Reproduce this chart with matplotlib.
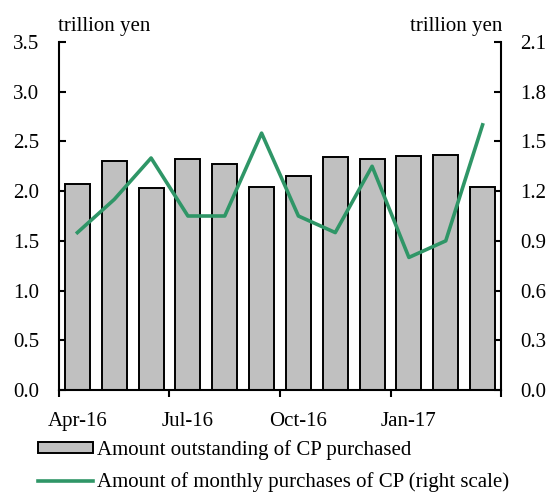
import matplotlib
matplotlib.use("Agg")
import matplotlib.pyplot as plt
import numpy as np

months = ["Apr-16", "May-16", "Jun-16", "Jul-16", "Aug-16", "Sep-16",
          "Oct-16", "Nov-16", "Dec-16", "Jan-17", "Feb-17", "Mar-17"]
outstanding = [2.07, 2.30, 2.03, 2.32, 2.27, 2.04, 2.15, 2.34, 2.32, 2.35, 2.36, 2.04]
monthly_purchases = [0.95, 1.15, 1.40, 1.05, 1.05, 1.55, 1.05, 0.95, 1.35, 0.80, 0.90, 1.60]
quarter_labels = ["Apr-16", "Jul-16", "Oct-16", "Jan-17"]

plt.rcParams["font.family"] = ["Liberation Serif", "DejaVu Serif"]
FS = 15

fig = plt.figure(figsize=(5.51, 4.93), dpi=100)
ax = fig.add_axes([59 / 551, 1 - 390 / 493, 442 / 551, 348 / 493])
ax2 = ax.twinx()

x = np.arange(len(months))
bars = ax.bar(x, outstanding, width=0.68, color="#c0c0c0", edgecolor="black",
              linewidth=1.4, label="Amount outstanding of CP purchased", zorder=2)
line, = ax2.plot(x, monthly_purchases, color="#2f9667", linewidth=2.6,
                 label="Amount of monthly purchases of CP (right scale)")

ax.set_xlim(-0.5, 11.5)
ax.set_ylim(0, 3.5)
ax2.set_ylim(0, 2.1)
ax.set_yticks(np.arange(0, 3.51, 0.5))
ax.set_yticklabels([f"{v:.1f}" for v in np.arange(0, 3.51, 0.5)])
ax2.set_yticks(np.arange(0, 2.11, 0.3))
ax2.set_yticklabels([f"{v:.1f}" for v in np.arange(0, 2.11, 0.3)])

# quarter boundary ticks; labels sit under the first month of each quarter
ax.set_xticks([-0.5, 2.5, 5.5, 8.5, 11.5])
ax.set_xticklabels([])
ax.set_xticks([0, 3, 6, 9], minor=True)
ax.set_xticklabels(quarter_labels, minor=True, fontsize=FS)
ax.tick_params(axis="x", which="major", direction="out", length=5, width=1.5)
ax.tick_params(axis="x", which="minor", length=0, pad=16)

ax.tick_params(axis="y", direction="in", length=5, width=1.5, labelsize=FS, pad=14)
ax2.tick_params(axis="y", direction="in", length=5, width=1.5, labelsize=FS, pad=14)

for a in (ax, ax2):
    a.spines["top"].set_visible(False)
    for s in ("left", "right", "bottom"):
        a.spines[s].set_linewidth(1.5)
ax.spines["right"].set_visible(False)
ax2.spines["left"].set_visible(False)
ax2.spines["bottom"].set_visible(False)

fig.text(58 / 551, 1 - 26 / 493, "trillion yen", fontsize=FS, ha="left", va="center")
fig.text(502 / 551, 1 - 26 / 493, "trillion yen", fontsize=FS, ha="right", va="center")

fig.legend([bars, line], [bars.get_label(), line.get_label()],
           loc="upper left", bbox_to_anchor=(38 / 551, 1 - 440 / 493),
           frameon=False, fontsize=FS, handlelength=2.65, handleheight=0.5,
           handletextpad=0.2, labelspacing=0.6, borderpad=0, borderaxespad=0)

fig.savefig("out.png", dpi=100)
